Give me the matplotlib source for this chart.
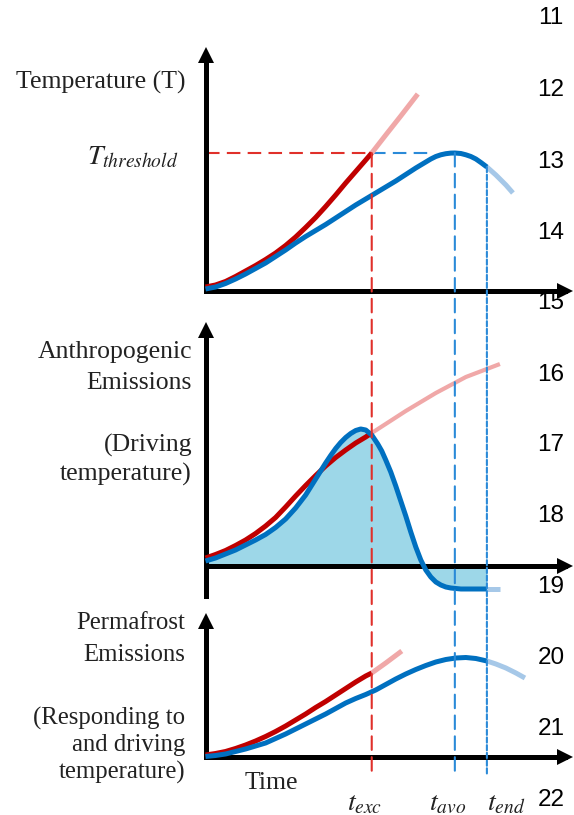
import matplotlib
matplotlib.use("Agg")
import matplotlib.pyplot as plt
from matplotlib.patches import ConnectionPatch

W, H = 574, 815
fig = plt.figure(figsize=(W / 100, H / 100), dpi=100)

# ---------------- data ----------------
T_threshold = 13.8
t_exc, t_avo, t_end = 16.6, 24.9, 28.1

# Temperature panel
t_red_T = [0, 1, 2, 3, 4, 5, 6, 7, 8, 9, 10, 11, 12, 13, 14, 15, 16, 16.6]
red_T = [0.4, 0.6, 0.95, 1.45, 2.0, 2.55, 3.15, 3.8, 4.55, 5.4, 6.35, 7.35,
         8.45, 9.6, 10.8, 11.95, 13.1, 13.8]
t_red_T_ext = [16.6, 18, 19.5, 21.2]
red_T_ext = [13.8, 15.6, 17.5, 19.7]

t_blue_T = [0, 1, 2, 3, 4, 5, 6, 7, 8, 9, 10, 11, 12, 13, 14, 15, 16, 17, 18,
            19, 20, 21, 22, 22.5, 23, 23.5, 24, 24.5, 24.9, 25.5, 26, 26.5,
            27, 27.5, 28.1]
blue_T = [0.2, 0.4, 0.75, 1.2, 1.7, 2.25, 2.8, 3.45, 4.1, 4.8, 5.45, 6.05,
          6.65, 7.3, 7.95, 8.6, 9.2, 9.8, 10.4, 11.0, 11.65, 12.3, 12.9, 13.2,
          13.45, 13.62, 13.73, 13.79, 13.8, 13.75, 13.62, 13.45, 13.2, 12.85,
          12.4]
t_blue_T_ext = [28.1, 29, 30, 30.7]
blue_T_ext = [12.4, 11.6, 10.6, 9.8]

# Anthropogenic emissions panel
t_red_A = [0, 1, 2, 3, 4, 5, 6, 7, 8, 9, 10, 11, 12, 13, 14, 15, 16, 16.6]
red_A = [0.8, 1.15, 1.55, 2.05, 2.6, 3.25, 4.0, 4.85, 5.9, 7.0, 8.05, 9.05,
         10.0, 10.85, 11.6, 12.3, 12.9, 13.3]
t_red_A_ext = [16.6, 20, 23, 26, 29.4]
red_A_ext = [13.3, 15.5, 17.3, 18.9, 20.2]

t_blue_A = [0, 1, 2, 3, 4, 5, 6, 7, 8, 9, 10, 11, 12, 12.5, 13, 13.5, 14,
            14.5, 15, 15.5, 16, 16.6, 17.2, 17.6, 18, 18.5, 19, 19.5, 20,
            20.5, 21, 21.5, 22, 22.5, 23, 23.5, 24, 24.5, 25.5, 28.1]
blue_A = [0.5, 0.8, 1.2, 1.6, 2.1, 2.6, 3.15, 3.85, 4.7, 5.8, 7.1, 8.7, 10.3,
          11.05, 11.75, 12.35, 12.85, 13.25, 13.55, 13.7, 13.6, 13.1, 12.2,
          11.5, 10.6, 9.4, 8.0, 6.5, 5.0, 3.4, 1.9, 0.6, -0.4, -1.1, -1.6,
          -1.9, -2.1, -2.2, -2.3, -2.3]
t_blue_A_ext = [28.1, 29.4]
blue_A_ext = [-2.3, -2.3]

# Permafrost emissions panel
t_red_P = [0, 1, 2, 3, 4, 5, 6, 7, 8, 9, 10, 11, 12, 13, 14, 15, 16, 16.6]
red_P = [0.2, 0.35, 0.55, 0.85, 1.2, 1.6, 2.05, 2.55, 3.1, 3.7, 4.3, 4.95,
         5.55, 6.2, 6.85, 7.5, 8.1, 8.4]
t_red_P_ext = [16.6, 18, 19.6]
red_P_ext = [8.4, 9.4, 10.6]

t_blue_P = [0, 1, 2, 3, 4, 5, 6, 7, 8, 9, 10, 11, 12, 13, 14, 15, 16, 17, 18,
            19, 20, 21, 22, 23, 24, 25, 26, 27, 28.1]
blue_P = [0.05, 0.15, 0.3, 0.55, 0.8, 1.1, 1.4, 1.85, 2.3, 2.8, 3.3, 3.8, 4.3,
          4.85, 5.4, 5.85, 6.25, 6.7, 7.25, 7.8, 8.3, 8.75, 9.15, 9.5, 9.75,
          9.9, 9.95, 9.85, 9.6]
t_blue_P_ext = [28.1, 29, 30, 31, 31.9]
blue_P_ext = [9.6, 9.3, 8.9, 8.4, 7.9]

line_numbers = ["11", "12", "13", "14", "15", "16", "17", "18", "19", "20",
                "21", "22"]

# ---------------- styling ----------------
RED = "#c00000"
RED_LIGHT = "#f0a8a8"
BLUE = "#0070c0"
BLUE_LIGHT = "#a6c8e8"
FILL = "#9dd7e8"
RED_DASH = "#e0302a"
BLUE_DASH = "#2a8ad8"
SERIF = "Liberation Serif"
TXT = "#222222"
LW = 3.6
X_MAX = 35.9  # axis length in time units


def px_axes(left, top, right, bottom):
    return fig.add_axes([left / W, 1 - bottom / H, (right - left) / W,
                         (bottom - top) / H])


def style_axes(ax, ymin, ymax):
    ax.set_xlim(0, X_MAX)
    ax.set_ylim(ymin, ymax)
    ax.set_facecolor("none")
    for s in ("top", "right"):
        ax.spines[s].set_visible(False)
    ax.spines["left"].set_linewidth(3.6)
    ax.spines["bottom"].set_linewidth(3.6)
    ax.spines["bottom"].set_position(("data", 0))
    ax.set_xticks([])
    ax.set_yticks([])
    ax.plot(1, 0, marker=">", ms=11.5, mew=0, color="black",
            transform=ax.get_yaxis_transform(), clip_on=False, zorder=6)
    ax.plot(0, 1, marker="^", ms=11.5, mew=0, color="black",
            transform=ax.get_xaxis_transform(), clip_on=False, zorder=6)


ax1 = px_axes(205.5, 55, 565, 291)
style_axes(ax1, 0, 23.6)
ax2 = px_axes(205.5, 330, 565, 596)
style_axes(ax2, -3.0, 23.6)
ax3 = px_axes(205.5, 621, 565, 757)
style_axes(ax3, 0, 13.6)

# ---------------- curves ----------------
kw = dict(solid_capstyle="butt", solid_joinstyle="round", clip_on=False)
dash_long = (0, (6.5, 3.5))

# Temperature
ax1.plot([0, t_exc], [T_threshold, T_threshold], color=RED_DASH, lw=1.5,
         ls=dash_long, zorder=2)
ax1.plot([t_exc, 22.3], [T_threshold, T_threshold], color=BLUE_DASH, lw=1.5,
         ls=dash_long, zorder=2)
ax1.plot(t_red_T_ext, red_T_ext, color=RED_LIGHT, lw=LW, zorder=3, **kw)
ax1.plot(t_blue_T_ext, blue_T_ext, color=BLUE_LIGHT, lw=LW, zorder=3, **kw)
ax1.plot(t_red_T, red_T, color=RED, lw=LW, zorder=4, **kw)
ax1.plot(t_blue_T, blue_T, color=BLUE, lw=LW, zorder=5, **kw)

# Anthropogenic emissions
ax2.fill_between(t_blue_A, blue_A, 0, color=FILL, lw=0, zorder=1)
ax2.plot(t_red_A_ext, red_A_ext, color=RED_LIGHT, lw=3.0, zorder=3, **kw)
ax2.plot(t_blue_A_ext, blue_A_ext, color=BLUE_LIGHT, lw=LW, zorder=3, **kw)
ax2.plot(t_red_A, red_A, color=RED, lw=LW, zorder=4, **kw)
ax2.plot(t_blue_A, blue_A, color=BLUE, lw=LW, zorder=5, **kw)

# Permafrost emissions
ax3.plot(t_red_P_ext, red_P_ext, color=RED_LIGHT, lw=LW, zorder=3, **kw)
ax3.plot(t_blue_P_ext, blue_P_ext, color=BLUE_LIGHT, lw=LW, zorder=3, **kw)
ax3.plot(t_red_P, red_P, color=RED, lw=LW, zorder=4, **kw)
ax3.plot(t_blue_P, blue_P, color=BLUE, lw=LW, zorder=5, **kw)

# Vertical time markers running through all three panels
bottom_y = -1.8
for t, y_top, color, dash in [
        (t_exc, T_threshold, RED_DASH, dash_long),
        (t_avo, max(blue_T), BLUE_DASH, dash_long),
        (t_end, blue_T[-1], BLUE_DASH, (0, (2.5, 1.2)))]:
    con = ConnectionPatch(xyA=(t, y_top), coordsA=ax1.transData,
                          xyB=(t, bottom_y), coordsB=ax3.transData,
                          color=color, lw=1.5, linestyle=dash, zorder=2)
    fig.add_artist(con)


# ---------------- labels ----------------
def ftext(x, y, s, **k):
    return fig.text(x / W, 1 - y / H, s, **k)


lab = dict(family=SERIF, fontsize=18.5, ha="right", va="center", color=TXT)
ftext(185, 82, "Temperature (T)", **lab)
ftext(178, 156, r"$T_{threshold}$", fontsize=20, ha="right", va="center",
      math_fontfamily="stix", color=TXT)

ftext(192, 352, "Anthropogenic", **lab)
ftext(192, 383, "Emissions", **lab)
ftext(192, 445, "(Driving", **lab)
ftext(192, 474, "temperature)", **lab)

lab3 = dict(lab, fontsize=17.8)
ftext(185, 623, "Permafrost", **lab3)
ftext(185, 655, "Emissions", **lab3)
ftext(185, 718, "(Responding to", **lab3)
ftext(185, 745, "and driving", **lab3)
ftext(185, 772, "temperature)", **lab3)

ftext(245, 783, "Time", family=SERIF, fontsize=18.5, ha="left", va="center",
      color=TXT)

for t, s, dx in [(t_exc, r"$t_{exc}$", -25), (t_avo, r"$t_{avo}$", -26),
                 (t_end, r"$t_{end}$", 0)]:
    ax3.annotate(s, xy=(t, 0), xytext=(dx, -45), textcoords="offset pixels",
                 ha="left", va="center", fontsize=20, math_fontfamily="stix",
                 color=TXT, annotation_clip=False)

# manuscript line numbers down the right margin
num_y = [18, 90, 162, 233, 303, 375, 445, 516, 587, 658, 729, 800]
for s, y in zip(line_numbers, num_y):
    ftext(551, y, s, family="Liberation Sans", fontsize=17.5, ha="center",
          va="center", color="black", zorder=-1)

fig.savefig("out.png", dpi=100)
